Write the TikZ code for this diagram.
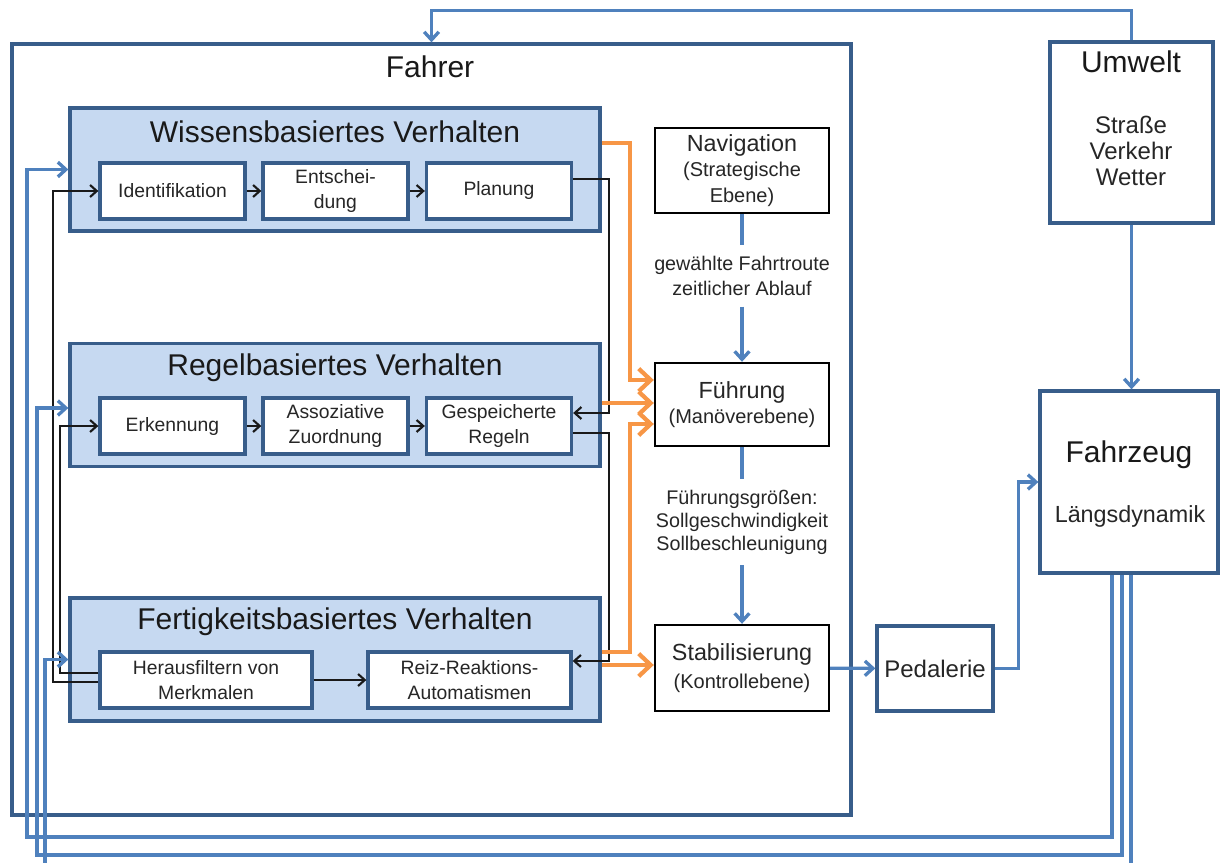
\documentclass[tikz,border=0pt]{standalone}
\usepackage{fontspec}
\setmainfont{Liberation Sans}
\usepackage{tikz}
\definecolor{Rahmen}{RGB}{56,93,138}
\definecolor{Fluss}{RGB}{79,129,189}
\definecolor{Ebene}{RGB}{198,217,241}
\definecolor{Signal}{RGB}{247,150,70}
\newcommand{\kopfschrift}{\fontsize{17.5}{19}\selectfont}
\usetikzlibrary{arrows.meta,calc}

\begin{document}
\begin{tikzpicture}[x=0.75pt,y=-0.75pt,
ebene/.style={draw=Rahmen,fill=Ebene,line width=2.5pt,inner sep=0pt,minimum width=530*0.75pt,minimum height=123*0.75pt},
kasten/.style={draw=Rahmen,fill=white,line width=2.5pt,inner sep=0pt,align=center,text=black!85,font=\fontsize{14.5}{18.75}\selectfont},
stufe/.style={draw=black,fill=white,line width=1.8pt,inner sep=0pt,align=center,text=black!85,minimum width=174*0.75pt,font=\fontsize{15}{19}\selectfont},
titel/.style={text=black!90,font=\fontsize{22.5}{27}\selectfont},
hinweis/.style={align=center,text=black!85,inner xsep=0pt,inner ysep=8pt},
fluss/.style={draw=Fluss,line width=2.5pt,>={Straight Barb[length=6pt,width=11pt]}},
leitung/.style={draw=black!90,line width=1.6pt,>={Straight Barb[length=5pt,width=9pt]}},
signal/.style={draw=Signal,line width=3.2pt,>={Straight Barb[length=9pt,width=17pt]}}]
\useasboundingbox (0,0) rectangle (1220,863);

%%Fahrer
\node[draw=Rahmen,line width=2.5pt,inner sep=0pt,minimum width=839*0.75pt,minimum height=771*0.75pt] (fahrer) at (431.5,429.5) {};
\node[titel] (fahrertitel) at (430,67) {Fahrer};

%%Ebenen
\node[ebene] (wissen) at (335,169.5) {};
\node[ebene] (regel) at (335,405) {};
\node[ebene] (fert) at (335,659.5) {};
\node[titel] (wissentitel) at (335,132) {Wissensbasiertes Verhalten};
\node[titel] (regeltitel) at (335,368) {Regelbasiertes Verhalten};
\node[titel] (perttitel) at (335,622) {Fertigkeitsbasiertes Verhalten};

\begin{scope}[every node/.append style={kasten,minimum width=145*0.75pt,minimum height=56*0.75pt}]
\node (iden) at (172.5,191) {Identifikation};
\node (ents) at (335.5,191) {Entschei-\\dung};
\node (plan) at (499,191) {Planung};
\node (erk) at (172.5,426) {Erkennung};
\node (zuord) at (335.5,426) {Assoziative\\Zuordnung};
\node (regeln) at (499,426) {Gespeicherte\\Regeln};
\node[minimum width=212*0.75pt] (filt) at (206,680) {Herausfiltern von\\Merkmalen};
\node[minimum width=203*0.75pt] (reiz) at (469.5,680) {Reiz-Reaktions-\\Automatismen};
\end{scope}

%%Ebenen der Fahraufgabe
\node[stufe,minimum height=85*0.75pt] (nav) at (742,170.5) {{\kopfschrift Navigation}\\(Strategische\\Ebene)};
\node[stufe,minimum height=83*0.75pt] (fuehr) at (742,404.5) {{\kopfschrift Führung}\\(Manöverebene)};
\node[stufe,minimum height=86*0.75pt] (stab) at (742,668) {{\kopfschrift Stabilisierung}\\[2.5pt](Kontrollebene)};
\node[hinweis,font=\fontsize{14.8}{18.75}\selectfont] (route) at (742,276) {gewählte Fahrtroute\\zeitlicher Ablauf};
\node[hinweis,font=\fontsize{14.8}{17.25}\selectfont] (groessen) at (742,522) {Führungsgrößen:\\Sollgeschwindigkeit\\Sollbeschleunigung};

%%Umwelt, Fahrzeug
\node[kasten,font=\fontsize{18}{22}\selectfont,minimum width=116*0.75pt,minimum height=85*0.75pt] (pedal) at (935,668.5) {Pedalerie};
\node[kasten,minimum width=178*0.75pt,minimum height=182*0.75pt] (fzg) at (1129,482) {};
\node[titel] (fzgtitel) at (1129,455) {Fahrzeug};
\node[text=black!85,font=\fontsize{17.5}{21}\selectfont] (fzgtext) at (1130,516) {Längsdynamik};
\node[kasten,minimum width=163*0.75pt,minimum height=181*0.75pt] (umwelt) at (1131.5,132.5) {};
\node[titel] (umwelttitel) at (1131,62) {Umwelt};
\node[align=center,text=black!85,font=\fontsize{18}{19.5}\selectfont] (umweltliste) at (1131,151) {Straße\\Verkehr\\Wetter};

%%Leitungen im Fahrer
\draw[leitung,->] (iden) -- (ents);
\draw[leitung,->] (ents) -- (plan);
\draw[leitung,->] (erk) -- (zuord);
\draw[leitung,->] (zuord) -- (regeln);
\draw[leitung,->] (filt) -- (reiz);
\draw[leitung,->] ($(plan.east)+(0,-12)$) -- ++(36,0) |- ($(regeln.east)+(0,-13)$);
\draw[leitung,->] ($(regeln.east)+(0,7)$) -- ++(36,0) |- ($(reiz.east)+(0,-19)$);
\draw[leitung,->] ($(filt.west)+(0,2)$) -- ++(-45,0) |- (iden.west);
\draw[leitung,->] ($(filt.west)+(0,-7)$) -- ++(-38,0) |- (erk.west);

%%Signale
\draw[signal,->] ($(wissen.east)+(0,-26.5)$) -- ++(28,0) |- ($(fuehr.west)+(0,-24.5)$);
\draw[signal,->] ($(regel.east)+(0,-2)$) -- ($(fuehr.west)+(0,-1.5)$);
\draw[signal,->] ($(fert.east)+(0,-7.5)$) -- ++(28,0) |- ($(fuehr.west)+(0,19.5)$);
\draw[signal,->] ($(fert.east)+(0,5.5)$) -- ($(stab.west)+(0,-3)$);

%%Fluss
\draw[fluss] (nav) -- (route);
\draw[fluss,->] (route) -- (fuehr);
\draw[fluss] (fuehr) -- (groessen);
\draw[fluss,->] (groessen) -- (stab);
\draw[fluss,->] (stab) -- (pedal);
\draw[fluss,->] (pedal.east) -- ++(24,0) |- (fzg.west);
\draw[fluss,->] (umwelt.south) -- (umwelt.south |- fzg.north);
\draw[fluss,->] (umwelt.north) -- ++(0,-30) -| (fahrer.north);

%%Rueckfuehrung
\coordinate (rueck1) at (27,837);
\coordinate (rueck2) at (37,855);
\coordinate (rueck3) at (45,872);
\draw[fluss,->] ($(fzg.south)+(-17,0)$) |- (rueck1) |- (wissen.west);
\draw[fluss,->] ($(fzg.south)+(-7,0)$) |- (rueck2) |- ($(regel.west)+(0,3)$);
\draw[fluss,->] ($(fzg.south)+(2,0)$) |- (rueck3) |- (fert.west);
\end{tikzpicture}
\end{document}
